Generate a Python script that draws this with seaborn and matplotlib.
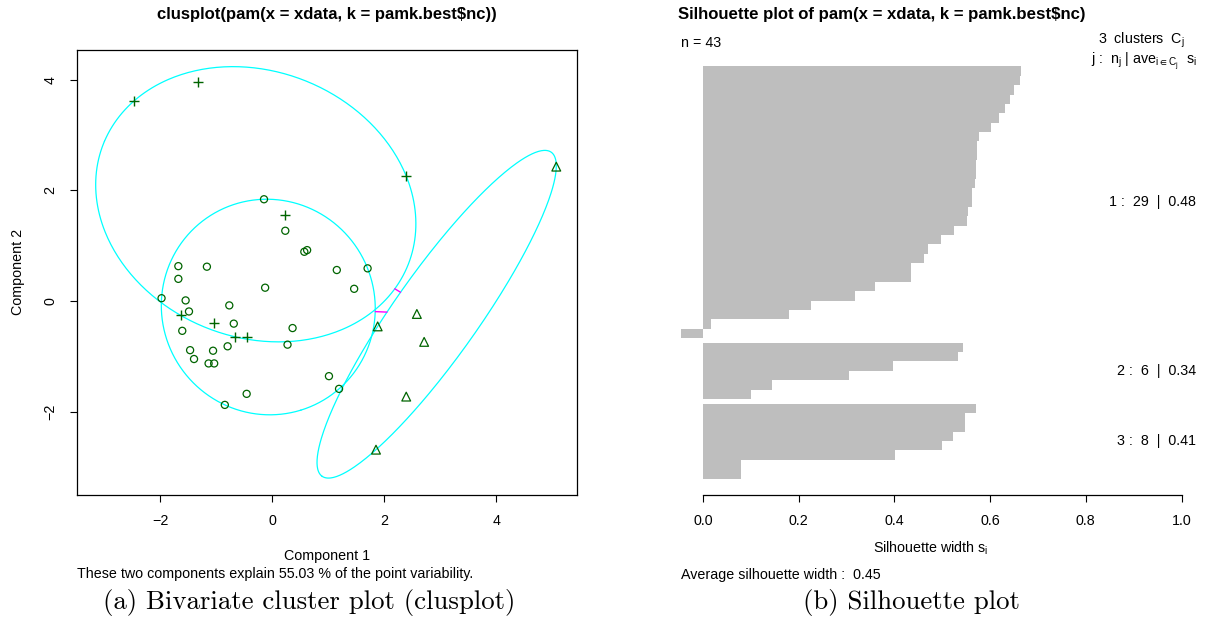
import numpy as np
import pandas as pd
import matplotlib
matplotlib.use("Agg")
import matplotlib.pyplot as plt
import seaborn as sns

# ---- PAM cluster members in principal-component space ----
c1_x = [-0.15, 0.23, 0.57, 0.62, -1.68, -1.17, -1.68, 1.15, 1.70, -0.13,
        -1.98, -1.55, 1.46, -0.77, -1.49, -0.69, -1.61, 0.36, 0.27, -0.80,
        -1.47, -1.06, -1.40, -1.14, -1.04, 1.01, 1.19, -0.46, -0.85]
c1_y = [1.84, 1.27, 0.89, 0.92, 0.63, 0.62, 0.40, 0.56, 0.59, 0.24,
        0.05, 0.01, 0.22, -0.08, -0.19, -0.41, -0.54, -0.49, -0.79, -0.82,
        -0.89, -0.90, -1.05, -1.13, -1.13, -1.36, -1.59, -1.68, -1.88]
c2_x = [5.07, 2.58, 1.88, 2.71, 2.39, 1.85]
c2_y = [2.43, -0.235, -0.46, -0.74, -1.73, -2.69]
c3_x = [-2.47, -1.33, 0.23, 2.39, -1.64, -1.05, -0.66, -0.46]
c3_y = [3.62, 3.97, 1.555, 2.26, -0.26, -0.39, -0.65, -0.65]
explained_pct = 55.03

# ---- silhouette widths, sorted within each cluster ----
sil_1 = [0.665, 0.663, 0.650, 0.642, 0.632, 0.619, 0.602, 0.577, 0.573, 0.572,
         0.571, 0.570, 0.569, 0.563, 0.562, 0.553, 0.552, 0.525, 0.498, 0.471,
         0.462, 0.434, 0.434, 0.359, 0.317, 0.225, 0.179, 0.016, -0.046]
sil_2 = [0.543, 0.533, 0.397, 0.305, 0.144, 0.100]
sil_3 = [0.570, 0.547, 0.547, 0.522, 0.499, 0.402, 0.079, 0.079]
sil_ticks = [0.0, 0.2, 0.4, 0.6, 0.8, 1.0]

GREEN = "#006400"
CYAN = "#00FFFF"
MAGENTA = "#FF00FF"
GRAY = "#BEBEBE"
FS = 10.3

sns.set_theme(style="ticks")
plt.rcParams["font.family"] = ["Liberation Sans", "DejaVu Sans"]
plt.rcParams["mathtext.default"] = "regular"
plt.rcParams["axes.linewidth"] = 0.9
plt.rcParams["axes.edgecolor"] = "black"
plt.rcParams["text.color"] = "black"
plt.rcParams["axes.labelcolor"] = "black"
plt.rcParams["xtick.color"] = "black"
plt.rcParams["ytick.color"] = "black"
plt.rcParams["xtick.labelcolor"] = "black"
plt.rcParams["ytick.labelcolor"] = "black"

W, H = 1210, 626
fig = plt.figure(figsize=(W / 100, H / 100), dpi=100)


def box(x0, y0, x1, y1):
    """Axes rectangle from pixel edges (y measured from the top)."""
    return [x0 / W, 1 - y1 / H, (x1 - x0) / W, (y1 - y0) / H]


def ftext(x, y, s, **kw):
    fig.text(x / W, 1 - y / H, s, **kw)


def mvee(pts, tol=1e-9):
    """Minimum-volume enclosing ellipse (Khachiyan): returns shape matrix A and centre c."""
    pts = np.asarray(pts, float)
    n, d = pts.shape
    q = np.vstack([pts.T, np.ones(n)])
    u = np.full(n, 1.0 / n)
    for _ in range(20000):
        x = q @ np.diag(u) @ q.T
        m = np.einsum("ij,ji->i", q.T @ np.linalg.inv(x), q)
        j = np.argmax(m)
        step = (m[j] - d - 1) / ((d + 1) * (m[j] - 1))
        nu = (1 - step) * u
        nu[j] += step
        if np.linalg.norm(nu - u) < tol:
            u = nu
            break
        u = nu
    c = pts.T @ u
    a = np.linalg.inv(pts.T @ np.diag(u) @ pts - np.outer(c, c)) / d
    return a, c


def outline(a, c, k=400):
    vals, vecs = np.linalg.eigh(a)
    t = np.linspace(0, 2 * np.pi, k)
    circ = np.vstack([np.cos(t), np.sin(t)])
    return (c[:, None] + vecs @ np.diag(1 / np.sqrt(vals)) @ circ)


# ================= left: cluster plot =================
ax1 = fig.add_axes(box(77, 50, 577, 495))
clusters = [(c1_x, c1_y), (c2_x, c2_y), (c3_x, c3_y)]
ells = []
for cx, cy in clusters:
    a, c = mvee(np.column_stack([cx, cy]))
    ells.append((a, c))
    xy = outline(a, c)
    ax1.plot(xy[0], xy[1], color=CYAN, lw=0.9, zorder=1)

# segments between ellipse boundaries along the line joining centres
for i in range(3):
    for j in range(i + 1, 3):
        ai, ci = ells[i]
        aj, cj = ells[j]
        inside = ((cj - ci) @ ai @ (cj - ci) <= 1) or ((ci - cj) @ aj @ (ci - cj) <= 1)
        if inside:
            continue
        dvec = cj - ci
        pi = ci + dvec / np.sqrt(dvec @ ai @ dvec)
        pj = cj - dvec / np.sqrt(dvec @ aj @ dvec)
        ax1.plot([pi[0], pj[0]], [pi[1], pj[1]], color=MAGENTA, lw=1.0, zorder=2)

sns.scatterplot(x=c1_x, y=c1_y, marker="o", s=26, facecolor="none",
                edgecolor=GREEN, linewidth=0.9, ax=ax1, zorder=3)
sns.scatterplot(x=c2_x, y=c2_y, marker="^", s=40, facecolor="none",
                edgecolor=GREEN, linewidth=0.9, ax=ax1, zorder=3)
sns.scatterplot(x=c3_x, y=c3_y, marker="+", s=55, color=GREEN,
                linewidth=1.0, ax=ax1, zorder=3)

ax1.set_xlim(-3.49, 5.44)
ax1.set_ylim(-3.51, 4.54)
ax1.set_xticks([-2, 0, 2, 4])
ax1.set_yticks([-2, 0, 2, 4])
ax1.tick_params(axis="both", direction="out", length=5, width=0.8,
                labelsize=FS, pad=9)
for lab in ax1.get_yticklabels():
    lab.set_rotation(90)
    lab.set_va("center")
ax1.set_xlabel("")
ax1.set_ylabel("")
for sp in ax1.spines.values():
    sp.set_visible(True)

ftext(327, 15, "clusplot(pam(x = xdata, k = pamk.best$nc))", ha="center",
      va="center", fontsize=12, fontweight="bold")
ftext(327, 556, "Component 1", ha="center", va="center", fontsize=FS)
ftext(18, 272, "Component 2", ha="center", va="center", fontsize=FS, rotation=90)
ftext(77, 574, f"These two components explain {explained_pct:.2f} % of the point variability.",
      ha="left", va="center", fontsize=FS)
ftext(309, 603, "(a) Bivariate cluster plot (clusplot)", ha="center",
      va="center", fontsize=19.3, family="cmr10")

# ================= right: silhouette plot =================
groups = [sil_1, sil_2, sil_3]
rows = []
top = 0.0
centres = []
for k, g in enumerate(groups):
    for r, v in enumerate(g):
        rows.append({"cluster": k + 1, "pos": top + r + 0.5, "width": v})
    centres.append(top + len(g) / 2)
    top += len(g) + 0.5
sil = pd.DataFrame(rows)
n_total = len(sil)
span = top - 0.5

ax2 = fig.add_axes(box(681, 50, 1181.5, 495))
sns.barplot(data=sil, x="width", y="pos", orient="y", native_scale=True,
            color=GRAY, saturation=1, width=1.0, linewidth=0, errorbar=None,
            ax=ax2)
ax2.set_xlim(min(0.0, sil["width"].min()), 1.0)
pad = 0.04 * span
ax2.set_ylim(span + pad, -pad)
ax2.set_yticks([])
ax2.set_xticks(sil_ticks)
ax2.set_xticklabels([f"{t:.1f}" for t in sil_ticks])
ax2.tick_params(axis="x", direction="out", length=5, width=0.8,
                labelsize=FS, pad=9)
for s in ("left", "right", "top"):
    ax2.spines[s].set_visible(False)
ax2.spines["bottom"].set_bounds(sil_ticks[0], sil_ticks[-1])
ax2.set_xlabel("")
ax2.set_ylabel("")

for k, g in enumerate(groups):
    yc = centres[k]
    ypix = 50 + (yc + pad) / (span + 2 * pad) * 445
    ftext(1196, ypix, f"{k + 1} :  {len(g)}  |  {np.mean(g):.2f}",
          ha="right", va="center", fontsize=FS)

ftext(678, 15, "Silhouette plot of pam(x = xdata, k = pamk.best$nc)", ha="left",
      va="center", fontsize=12.1, fontweight="bold")
ftext(681, 43, f"n = {n_total}", ha="left", va="center", fontsize=FS)
ftext(1185, 40, r"3  clusters  $C_j$", ha="right", va="center", fontsize=FS)
ftext(1197, 61, r"j :  $n_j$ | ave$_{i\in C_j}$  $s_i$", ha="right",
      va="center", fontsize=FS)
ftext(931, 548, r"Silhouette width $s_i$", ha="center", va="center", fontsize=FS)
ftext(681, 575, f"Average silhouette width :  {sil['width'].mean():.2f}",
      ha="left", va="center", fontsize=FS)
ftext(911, 603, "(b) Silhouette plot", ha="center", va="center",
      fontsize=19.3, family="cmr10")

fig.savefig("out.png", dpi=100, facecolor="white")
